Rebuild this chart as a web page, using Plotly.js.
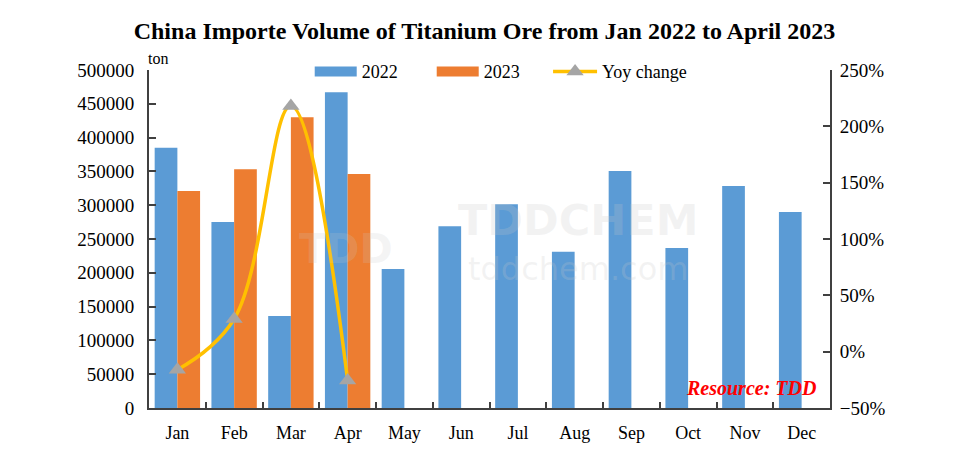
<!DOCTYPE html>
<html>
<head>
<meta charset="utf-8">
<script src="https://cdn.plot.ly/plotly-3.0.1.min.js"></script>
<style>html,body{margin:0;padding:0;background:#fff;}#chart{width:969px;height:466px;}</style>
</head>
<body>
<div id="chart"></div>
<script>
const months = ["Jan","Feb","Mar","Apr","May","Jun","Jul","Aug","Sep","Oct","Nov","Dec"];
const vol2022 = [385000,275000,136000,467000,205500,269000,301500,231000,350500,236700,328400,290000];
const vol2023 = [321000,353000,430000,346000];
const months2023 = ["Jan","Feb","Mar","Apr"];
const yoy = [-0.16,0.29,2.18,-0.255];
const leftTicks = [0,50000,100000,150000,200000,250000,300000,350000,400000,450000,500000];

const font = "'Liberation Serif','Times New Roman',serif";
const axisColor = "#404040";
const blue = "#5B9BD5", orange = "#ED7D31";

const traces = [
  {type:"bar", name:"2022", x:months, y:vol2022, marker:{color:blue}, showlegend:false, legendgroup:"a"},
  {type:"bar", name:"2023", x:months2023, y:vol2023, marker:{color:orange}, showlegend:false, legendgroup:"b"},
  {type:"scatter", mode:"lines", name:"2022", x:[null], y:[null], legendgroup:"a",
   line:{color:blue, width:13}, hoverinfo:"skip"},
  {type:"scatter", mode:"lines", name:"2023", x:[null], y:[null], legendgroup:"b",
   line:{color:orange, width:13}, hoverinfo:"skip"},
  {type:"scatter", mode:"lines+markers", name:"Yoy change", x:months2023, y:yoy, yaxis:"y2", legend:"legend2",
   line:{color:"#FFC000", width:3.5, shape:"spline", smoothing:1.1},
   marker:{symbol:"triangle-up", size:15, color:"#A5A5A5"}}
];

const layout = {
  width:969, height:466,
  margin:{l:149, r:139, t:70, b:58},
  paper_bgcolor:"#fff", plot_bgcolor:"#fff",
  font:{family:font, size:18, color:"#000"},
  title:{text:"<b>China Importe Volume of Titanium Ore from Jan 2022 to April 2023</b>",
         font:{family:font, size:24, color:"#000"}, x:0.5, xanchor:"center", y:0.935, yanchor:"middle"},
  barmode:"group", bargap:0.2, bargroupgap:0,
  showlegend:true,
  legend:{orientation:"h", x:0.236, xanchor:"left", y:0.995, yanchor:"middle",
          font:{family:font, size:18, color:"#000"}, entrywidth:65, entrywidthmode:"pixels",
          itemwidth:42, bgcolor:"rgba(0,0,0,0)", traceorder:"normal"},
  legend2:{orientation:"h", x:0.586, xanchor:"left", y:0.995, yanchor:"middle",
          font:{family:font, size:18, color:"#000"}, itemwidth:44, bgcolor:"rgba(0,0,0,0)"},
  xaxis:{type:"category", categoryorder:"array", categoryarray:months, range:[-0.5,11.5],
         showline:true, linecolor:axisColor, linewidth:2, ticks:"inside", tickson:"boundaries",
         ticklen:6, tickwidth:2, tickcolor:axisColor, showgrid:false, zeroline:false,
         tickfont:{family:font, size:18}, ticklabelstandoff:7},
  yaxis:{range:[0,500000], tickvals:leftTicks, ticktext:leftTicks.map(String),
         showline:true, linecolor:axisColor, linewidth:2, ticks:"inside", ticklen:7, tickwidth:2,
         tickcolor:axisColor, showgrid:false, zeroline:false, tickfont:{family:font, size:19},
         ticklabelstandoff:9},
  yaxis2:{overlaying:"y", side:"right", range:[-0.5,2.5], dtick:0.5, tick0:-0.5, tickformat:".0%",
          showline:true, linecolor:axisColor, linewidth:2, ticks:"inside", ticklen:7, tickwidth:2,
          tickcolor:axisColor, showgrid:false, zeroline:false, tickfont:{family:font, size:19},
          ticklabelstandoff:4},
  annotations:[
    {text:"ton", xref:"paper", yref:"paper", x:0.013, y:1.035, xanchor:"center", yanchor:"middle",
     showarrow:false, font:{family:font, size:16, color:"#000"}},
    {text:"<b><i>Resource: TDD</i></b>", xref:"paper", yref:"paper", x:0.884, y:0.058,
     xanchor:"center", yanchor:"middle", showarrow:false, font:{family:font, size:20, color:"#FF0000"}},
    {text:"<b>TDDCHEM</b>", xref:"paper", yref:"paper", x:0.63, y:0.555, xanchor:"center", yanchor:"middle",
     showarrow:false, font:{family:"'DejaVu Sans',sans-serif", size:43, color:"rgba(200,200,200,0.22)"}},
    {text:"tddchem.com", xref:"paper", yref:"paper", x:0.63, y:0.41, xanchor:"center", yanchor:"middle",
     showarrow:false, font:{family:"'DejaVu Sans',sans-serif", size:32, color:"rgba(200,200,200,0.22)"}},
    {text:"<b>TDD</b>", xref:"paper", yref:"paper", x:0.29, y:0.47, xanchor:"center", yanchor:"middle",
     showarrow:false, font:{family:"'DejaVu Sans',sans-serif", size:40, color:"rgba(200,200,200,0.2)"}}
  ]
};

Plotly.newPlot("chart", traces, layout, {displayModeBar:false, staticPlot:true});
</script>
</body>
</html>
